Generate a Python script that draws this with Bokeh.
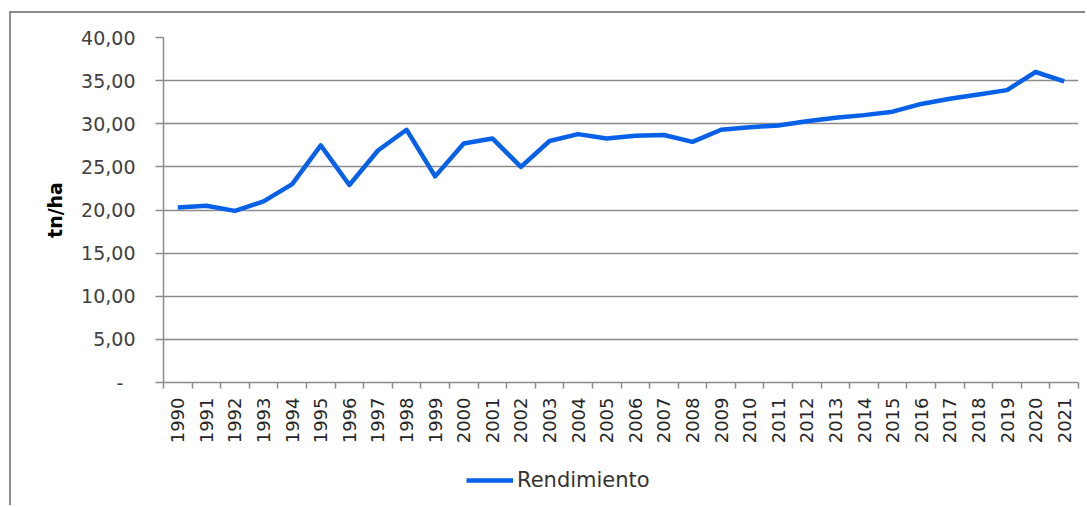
from bokeh.plotting import figure
from bokeh.layouts import column
from bokeh.models import Range1d, FixedTicker, Legend, LegendItem, ColumnDataSource
from bokeh.embed import file_html
from bokeh.resources import INLINE
import math

years = [str(y) for y in range(1990, 2022)]
rendimiento = [20.3, 20.5, 19.9, 21.0, 23.0, 27.5, 22.9, 26.9, 29.3, 23.9,
               27.7, 28.3, 25.0, 28.0, 28.8, 28.3, 28.6, 28.7, 27.9, 29.3,
               29.6, 29.8, 30.3, 30.7, 31.0, 31.4, 32.3, 32.9, 33.4, 33.9,
               36.0, 34.9]
y_ticks = [0, 5, 10, 15, 20, 25, 30, 35, 40]
y_tick_labels = ["-\u00a0\u00a0", "5,00", "10,00", "15,00", "20,00", "25,00", "30,00", "35,00", "40,00"]

GRAY = "#8c8c8c"
FONT = "DejaVu Sans"
LINE_COLOR = "#0660E8"

xs = [i + 0.5 for i in range(len(years))]
src = ColumnDataSource(dict(x=xs, y=rendimiento, year=years))

p = figure(width=1074, height=447, output_backend="svg", toolbar_location=None,
           x_range=Range1d(0, len(years)), y_range=Range1d(0, 40),
           min_border_left=152, min_border_right=7, min_border_top=24, min_border_bottom=78,
           background_fill_color="white", border_fill_color="white")
p.outline_line_color = None

r = p.line("x", "y", source=src, line_color=LINE_COLOR, line_width=4.5, line_join="round")

# grids
p.xgrid.grid_line_color = None
p.ygrid.grid_line_color = GRAY
p.ygrid.grid_line_width = 1.5
p.ygrid.ticker = FixedTicker(ticks=y_ticks)

# y axis
ya = p.yaxis[0]
ya.ticker = FixedTicker(ticks=y_ticks)
ya.major_label_overrides = {t: l for t, l in zip(y_ticks, y_tick_labels)}
ya.axis_line_color = GRAY
ya.axis_line_width = 1.5
ya.major_tick_line_color = GRAY
ya.major_tick_line_width = 1.5
ya.major_tick_in = 0
ya.major_tick_out = 8
ya.minor_tick_line_color = None
ya.major_label_standoff = 20
ya.major_label_text_font = FONT
ya.major_label_text_font_size = "19px"
ya.major_label_text_color = "#404040"
ya.axis_label = "tn/ha"
ya.axis_label_text_font = FONT
ya.axis_label_text_font_size = "19px"
ya.axis_label_text_font_style = "bold"
ya.axis_label_text_color = "#000000"
ya.axis_label_standoff = 12

# x axis
xa = p.xaxis[0]
xa.ticker = FixedTicker(ticks=xs, minor_ticks=list(range(len(years) + 1)))
xa.major_label_overrides = {x: y for x, y in zip(xs, years)}
xa.axis_line_color = GRAY
xa.axis_line_width = 1.5
xa.major_tick_line_color = None
xa.major_tick_in = 0
xa.major_tick_out = 6
xa.minor_tick_line_color = GRAY
xa.minor_tick_line_width = 1.5
xa.minor_tick_in = 0
xa.minor_tick_out = 6
xa.major_label_orientation = math.pi / 2
xa.major_label_standoff = 9
xa.major_label_text_font = FONT
xa.major_label_text_font_size = "18px"
xa.major_label_text_color = "#262626"

# legend strip (separate small figure so the legend is not clipped)
p2 = figure(width=1074, height=45, output_backend="svg", toolbar_location=None,
            x_range=Range1d(0, len(years)), y_range=Range1d(100, 200),
            x_axis_location=None, y_axis_location=None,
            min_border_left=0, min_border_right=0, min_border_top=0, min_border_bottom=0,
            background_fill_color="white", border_fill_color="white")
p2.outline_line_color = None
p2.grid.grid_line_color = None
r2 = p2.line("x", "y", source=src, line_color=LINE_COLOR, line_width=4.5)

legend = Legend(items=[LegendItem(label="Rendimiento", renderers=[r2])],
                location=(303, 13), orientation="horizontal",
                glyph_width=47, glyph_height=22, label_standoff=4,
                padding=0, margin=0, spacing=0,
                border_line_color=None, background_fill_alpha=0,
                label_text_font=FONT, label_text_font_size="21px",
                label_text_color="#333333")
p2.add_layout(legend, "center")

layout = column(p, p2, spacing=0)
layout.styles = {"margin-top": "11px", "margin-left": "9px",
                 "border-top": "2px solid #8c8c8c", "border-left": "2px solid #8c8c8c"}

open("out.html", "w").write(file_html(layout, INLINE))
